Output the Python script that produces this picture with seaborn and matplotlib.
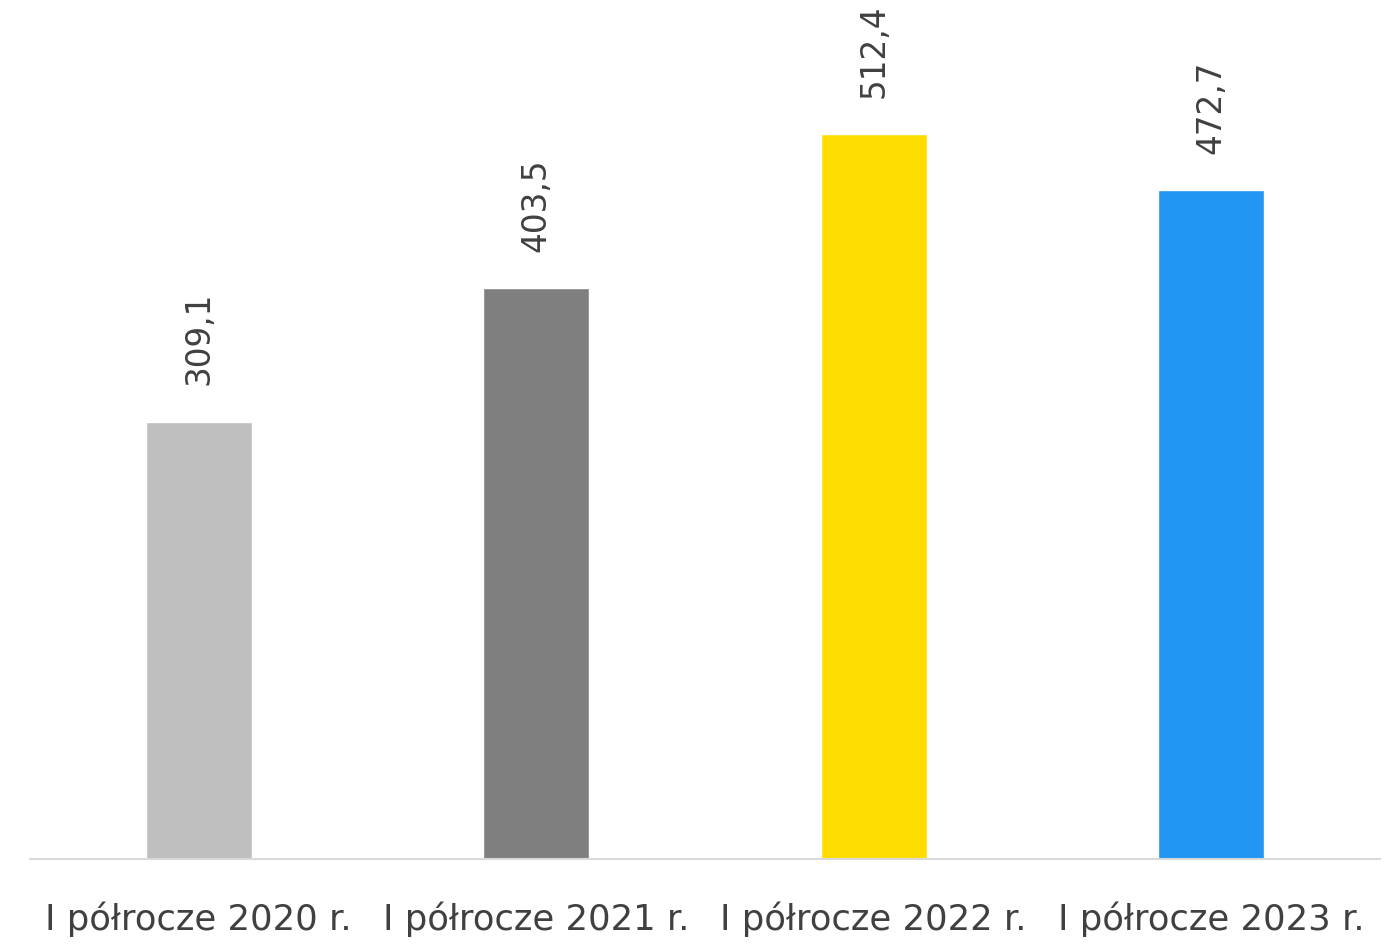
import matplotlib
matplotlib.use("Agg")
import matplotlib.pyplot as plt
import pandas as pd
import seaborn as sns

categories = ["I półrocze 2020 r.", "I półrocze 2021 r.", "I półrocze 2022 r.", "I półrocze 2023 r."]
values = [309.1, 403.5, 512.4, 472.7]
labels = ["309,1", "403,5", "512,4", "472,7"]
colors = ["#BFBFBF", "#7F7F7F", "#FFDD00", "#2196F3"]

sns.set_style("white")
plt.rcParams['font.family'] = ['DejaVu Sans']

df = pd.DataFrame({"cat": categories, "val": values})

fig = plt.figure(figsize=(13.99, 9.45), dpi=100)
ax = fig.add_axes([30/1399, 1 - 860/945, 1350/1399, 860/945])

sns.barplot(data=df, x="cat", y="val", hue="cat", palette=colors, width=0.314,
            dodge=False, legend=False, ax=ax, saturation=1)

for i, (v, lab) in enumerate(zip(values, labels)):
    ax.annotate(lab, (i, v), xytext=(0, 27), textcoords="offset points",
                rotation=90, ha="center", va="bottom", fontsize=23.5, color="#404040")

ax.set_xlim(-0.5, 3.5)
ax.set_ylim(0, 608)
ax.set_xlabel("")
ax.set_ylabel("")
ax.set_yticks([])
ax.tick_params(axis="x", length=0, pad=30, labelsize=25.5, labelcolor="#404040")
for s in ["top", "left", "right"]:
    ax.spines[s].set_visible(False)
ax.spines["bottom"].set_color("#D9D9D9")
ax.spines["bottom"].set_linewidth(1.5)

fig.savefig("out.png", dpi=100)
